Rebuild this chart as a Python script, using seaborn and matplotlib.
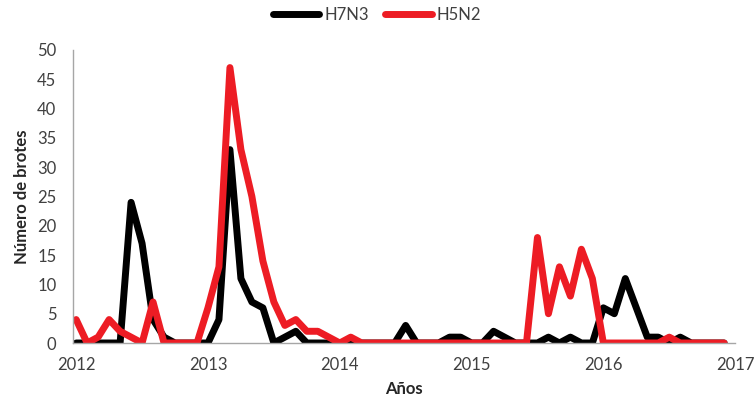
import pandas as pd
import seaborn as sns
import matplotlib.pyplot as plt

# monthly outbreaks, Jan 2012 - Dec 2016
years = [2012, 2013, 2014, 2015, 2016]
h7n3 = [0, 0, 0, 0, 0, 24, 17, 4, 1, 0, 0, 0,
        0, 4, 33, 11, 7, 6, 0, 1, 2, 0, 0, 0,
        0, 0, 0, 0, 0, 0, 3, 0, 0, 0, 1, 1,
        0, 0, 2, 1, 0, 0, 0, 1, 0, 1, 0, 0,
        6, 5, 11, 6, 1, 1, 0, 1, 0, 0, 0, 0]
h5n2 = [4, 0, 1, 4, 2, 1, 0, 7, 0, 0, 0, 0,
        6, 13, 47, 33, 25, 14, 7, 3, 4, 2, 2, 1,
        0, 1, 0, 0, 0, 0, 0, 0, 0, 0, 0, 0,
        0, 0, 0, 0, 0, 0, 18, 5, 13, 8, 16, 11,
        0, 0, 0, 0, 0, 0, 1, 0, 0, 0, 0, 0]
year_ticks = [2012, 2013, 2014, 2015, 2016, 2017]
y_ticks = [0, 5, 10, 15, 20, 25, 30, 35, 40, 45, 50]
colores = {"H7N3": "#000000", "H5N2": "#ED1C24"}

fechas = [a + m / 12 for a in years for m in range(12)]
df = pd.DataFrame({
    "Fecha": fechas * 2,
    "Brotes": h7n3 + h5n2,
    "Subtipo": ["H7N3"] * len(h7n3) + ["H5N2"] * len(h5n2),
})

sns.set_style("white")
plt.rcParams["font.family"] = ["Lato", "DejaVu Sans"]

fig = plt.figure(figsize=(7.54, 4.0), dpi=100)
ax = fig.add_axes([0.097, 0.1425, 0.878, 0.7325])

sns.lineplot(data=df, x="Fecha", y="Brotes", hue="Subtipo", palette=colores,
             linewidth=5, ax=ax, legend=True)
for ln in ax.lines:
    ln.set_solid_joinstyle("round")
    ln.set_solid_capstyle("round")

ax.set_xlim(2011.977, 2017.0)
ax.set_ylim(0, 50)
ax.set_xticks(year_ticks)
ax.set_yticks(y_ticks)
ax.tick_params(axis="both", length=0, labelsize=12, colors="#404040")
ax.tick_params(axis="y", pad=12)
ax.tick_params(axis="x", pad=10)

for s in ["top", "right"]:
    ax.spines[s].set_visible(False)
for s in ["left", "bottom"]:
    ax.spines[s].set_color("#A6A6A6")
    ax.spines[s].set_linewidth(1)

ax.set_xlabel("Años", fontsize=12, fontweight="bold", labelpad=6)
ax.set_ylabel("Número de brotes", fontsize=12, fontweight="bold", labelpad=5)

handles, labels = ax.get_legend_handles_labels()
ax.legend(handles, labels, loc="center", bbox_to_anchor=(0.5, 0.9625),
          bbox_transform=fig.transFigure, ncol=2, frameon=False,
          handlelength=2.8, handletextpad=0.3, columnspacing=1.0,
          fontsize=12)
for t in ax.get_legend().get_texts():
    t.set_color("#404040")

fig.savefig("out.png", dpi=100)
